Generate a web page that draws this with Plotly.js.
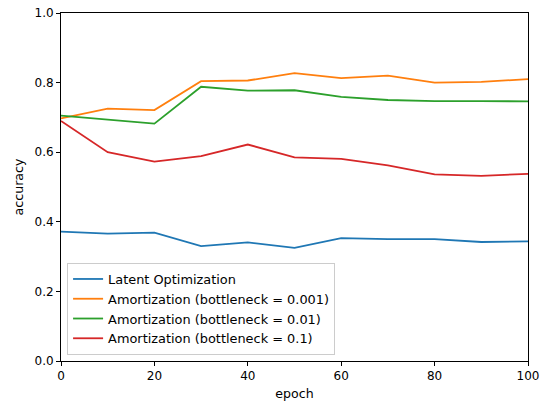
<!DOCTYPE html>
<html>
<head>
<meta charset="utf-8">
<script src="https://cdn.plot.ly/plotly-3.0.1.min.js"></script>
<style>html,body{margin:0;padding:0;background:#fff;}#chart{width:542px;height:402px;}</style>
</head>
<body>
<div id="chart"></div>
<script>
const epochs = [0, 10, 20, 30, 40, 50, 60, 70, 80, 90, 100];
const latentOpt = [0.372, 0.366, 0.369, 0.330, 0.341, 0.325, 0.353, 0.350, 0.350, 0.342, 0.344];
const amort001 = [0.697, 0.725, 0.721, 0.804, 0.806, 0.827, 0.813, 0.820, 0.800, 0.802, 0.810];
const amort01 = [0.705, 0.693, 0.682, 0.788, 0.777, 0.778, 0.759, 0.750, 0.747, 0.747, 0.746];
const amort1 = [0.690, 0.600, 0.573, 0.589, 0.622, 0.585, 0.581, 0.562, 0.536, 0.532, 0.538];
const seriesNames = ["Latent Optimization", "Amortization (bottleneck = 0.001)", "Amortization (bottleneck = 0.01)", "Amortization (bottleneck = 0.1)"];
const colors = ["#1f77b4", "#ff7f0e", "#2ca02c", "#d62728"];
const xTicks = [0, 20, 40, 60, 80, 100];
const yTicks = [0.0, 0.2, 0.4, 0.6, 0.8, 1.0];

const data = [latentOpt, amort001, amort01, amort1].map((ys, i) => ({
  x: epochs, y: ys, type: 'scatter', mode: 'lines', name: seriesNames[i],
  line: {color: colors[i], width: 1.8}
}));

const font = {family: 'DejaVu Sans', size: 12, color: '#000'};
const titleFont = {family: 'DejaVu Sans', size: 12.6, color: '#000'};
const legendFont = {family: 'DejaVu Sans', size: 12.9, color: '#000'};
const axisCommon = {
  showgrid: false, zeroline: false, showline: true, linecolor: '#000', linewidth: 1,
  mirror: true, ticks: 'outside', ticklen: 4, tickwidth: 1, tickcolor: '#000',
  tickfont: font
};
const layout = {
  width: 542, height: 402,
  margin: {l: 61, r: 14, t: 13, b: 41},
  paper_bgcolor: '#fff', plot_bgcolor: '#fff',
  font: font,
  showlegend: true,
  legend: {
    x: 0.013, y: 0.017, xanchor: 'left', yanchor: 'bottom',
    bgcolor: 'rgba(255,255,255,0.8)', bordercolor: '#cccccc', borderwidth: 1,
    font: legendFont, itemwidth: 30, tracegroupgap: 0
  },
  xaxis: Object.assign({}, axisCommon, {
    range: [0, 100], tickvals: xTicks, ticktext: xTicks.map(String),
    title: {text: 'epoch', font: titleFont, standoff: 6}
  }),
  yaxis: Object.assign({}, axisCommon, {
    range: [0, 1], tickvals: yTicks, ticktext: yTicks.map(v => v.toFixed(1)),
    title: {text: 'accuracy', font: titleFont, standoff: 8}
  })
};
Plotly.newPlot('chart', data, layout, {displayModeBar: false, staticPlot: true});
</script>
</body>
</html>
